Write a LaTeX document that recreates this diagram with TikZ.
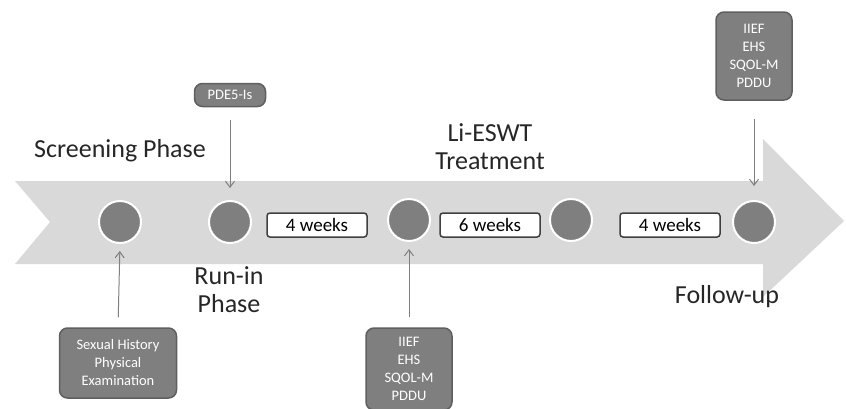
\documentclass[tikz,border=0pt]{standalone}
\usepackage{fontspec}
\setmainfont{Carlito}
\usetikzlibrary{arrows.meta}
\definecolor{band}{HTML}{D9D9D9}
\definecolor{dot}{HTML}{7F7F7F}
\definecolor{boxfill}{HTML}{7F7F7F}
\definecolor{boxline}{HTML}{5F5F5F}
\definecolor{wkline}{HTML}{404040}
\definecolor{conncol}{HTML}{7F7F7F}
\begin{document}
\begin{tikzpicture}[x=1pt,y=-1pt,
  dotnode/.style={circle,fill=dot,draw=white,line width=2pt,minimum size=42pt,inner sep=0pt},
  wkbox/.style={rectangle,rounded corners=3pt,fill=white,draw=wkline,line width=1.5pt,minimum width=100pt,minimum height=24pt,inner sep=0pt,font=\fontsize{19}{20}\selectfont},
  gbox/.style={rectangle,rounded corners=8pt,fill=boxfill,draw=boxline,line width=1.5pt,inner sep=0pt,text=white,align=center,font=\fontsize{14.5}{18}\selectfont},
  phase/.style={align=center,inner sep=0pt,font=\fontsize{26}{28}\selectfont,text=black!85},
  conn/.style={draw=conncol,line width=1pt,-{Straight Barb[length=6pt,width=9pt]}}
]
\useasboundingbox (0,0) rectangle (846,408);
% big arrow
\fill[band] (15,181) -- (763,181) -- (763,139) -- (844,221) -- (763,297) -- (763,264) -- (15,264) -- (50,222) -- cycle;
% circles
\node[dotnode] (c1) at (120,222) {};
\node[dotnode] (c2) at (230,222) {};
\node[dotnode] (c3) at (409,220) {};
\node[dotnode] (c4) at (571,220) {};
\node[dotnode] (c5) at (754,222) {};
% week boxes
\node[wkbox] (w1) at (317,225) {4 weeks};
\node[wkbox] (w2) at (490,225) {6 weeks};
\node[wkbox] (w3) at (670,225) {4 weeks};
% phase labels
\node[phase] (screen) at (120,151) {Screening Phase};
\node[phase] (runin) at (229,290) {Run-in\\Phase};
\node[phase] (treat) at (490,147) {Li-ESWT\\Treatment};
\node[phase] (follow) at (727,297) {Follow-up};
% grey boxes
\node[gbox,minimum width=71pt,minimum height=23pt] (pde) at (230,95) {PDE5-Is};
\node[gbox,minimum width=117pt,minimum height=70pt] (sex) at (118,363) {Sexual History\\Physical\\Examination};
\node[gbox,minimum width=86pt,minimum height=82pt] (ev1) at (409,369) {IIEF\\EHS\\SQOL-M\\PDDU};
\node[gbox,minimum width=76pt,minimum height=88pt] (ev2) at (754,56) {IIEF\\EHS\\SQOL-M\\PDDU};
% connectors
\draw[conn,shorten <=13pt,shorten >=12pt] (pde.south) -- (c2.north);
\draw[conn,shorten <=18pt,shorten >=14pt] (ev2.south) -- (c5.north);
\draw[conn,shorten <=10pt,shorten >=7pt] (sex.north) -- (c1.south);
\draw[conn,shorten <=10pt,shorten >=7pt] (ev1.north) -- (c3.south);
\end{tikzpicture}
\end{document}
